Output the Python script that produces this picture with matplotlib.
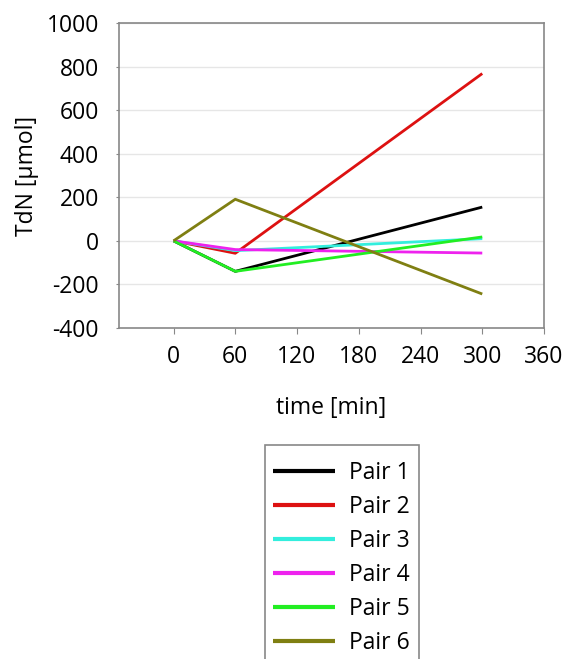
import matplotlib
matplotlib.use("Agg")
import matplotlib.pyplot as plt
from matplotlib.patches import Rectangle

plt.rcParams['font.family'] = ['Open Sans', 'DejaVu Sans']
plt.rcParams['axes.unicode_minus'] = False

time_min = [0, 60, 300]
series_names = ["Pair 1", "Pair 2", "Pair 3", "Pair 4", "Pair 5", "Pair 6"]
pair1 = [0, -140, 155]
pair2 = [0, -57, 768]
pair3 = [0, -45, 10]
pair4 = [0, -40, -56]
pair5 = [0, -140, 18]
pair6 = [0, 191, -244]
series_values = [pair1, pair2, pair3, pair4, pair5, pair6]
colors = ["#000000", "#dd1111", "#33eedd", "#ee22ee", "#22ee22", "#7f7f12"]

x_ticks = [0, 60, 120, 180, 240, 300, 360]
y_ticks = [-400, -200, 0, 200, 400, 600, 800, 1000]

FS = 16.5
W, H = 564, 659
fig = plt.figure(figsize=(W / 100, H / 100), dpi=100)
fig.patch.set_facecolor("white")

ax_l, ax_r, ax_t, ax_b = 119, 544, 23, 328
ax = fig.add_axes([ax_l / W, 1 - ax_b / H, (ax_r - ax_l) / W, (ax_b - ax_t) / H])

lines = []
for name, vals, c in zip(series_names, series_values, colors):
    ln, = ax.plot(time_min, vals, color=c, lw=2.0, label=name, solid_capstyle="butt")
    lines.append(ln)

ax.set_xlim(-53, 360)
ax.set_ylim(-400, 1000)
ax.set_xticks(x_ticks)
ax.set_yticks(y_ticks)
ax.tick_params(labelsize=FS, color="#888888")
ax.tick_params(axis="y", length=2.5, pad=12)
ax.tick_params(axis="x", length=4, pad=8)
ax.grid(axis="y", color="#e6e6e6", lw=1)
ax.set_axisbelow(True)
for s in ax.spines.values():
    s.set_color("#888888")
    s.set_linewidth(1.2)

ax.set_xlabel("time [min]", fontsize=FS, labelpad=20)
ax.set_ylabel("TdN [µmol]", fontsize=FS, labelpad=5.5)

# legend frame and entries
box_l, box_r, box_t = 265, 419, 445
fig.patches.append(Rectangle((box_l / W, 1 - 665 / H), (box_r - box_l) / W, (665 - box_t) / H,
                             transform=fig.transFigure, fill=False, edgecolor="#888888", lw=1.2))
leg = fig.legend(handles=lines, loc="upper left", bbox_to_anchor=(273 / W, 1 - 461 / H),
                 frameon=False, fontsize=FS, handlelength=2.7, handletextpad=0.6,
                 labelspacing=0.44, borderpad=0.0, borderaxespad=0.0)
for h in leg.legend_handles:
    h.set_linewidth(3)

fig.savefig("out.png", dpi=100)
